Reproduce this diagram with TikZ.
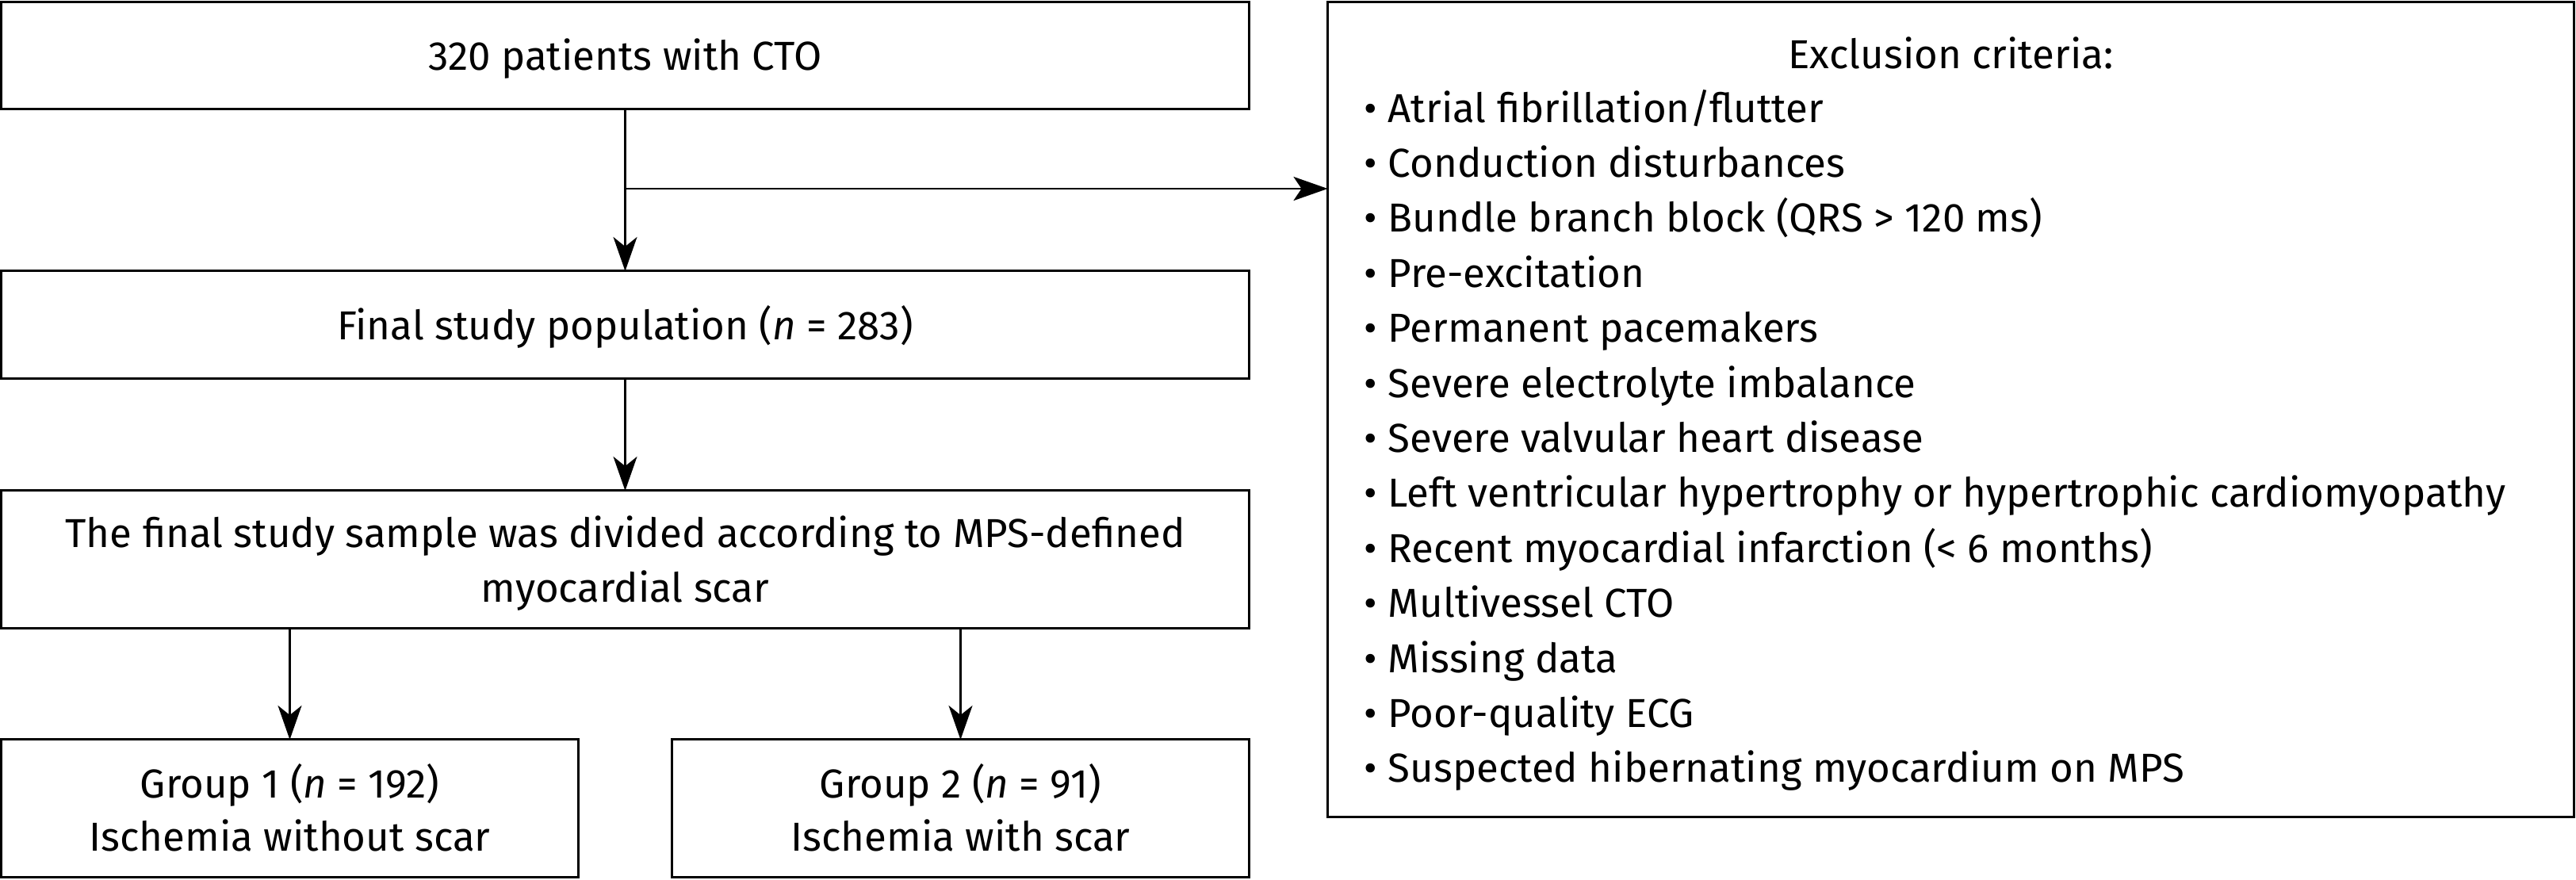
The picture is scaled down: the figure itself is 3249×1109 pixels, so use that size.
\documentclass[tikz,border=0pt]{standalone}
\usepackage{fontspec}
\setmainfont{Fira Sans}
\usetikzlibrary{arrows.meta}
\begin{document}
\begin{tikzpicture}[x=0.01cm,y=-0.01cm,
  font=\fontsize{14.5}{18}\selectfont,
  box/.style={draw, line width=0.85pt, inner sep=0pt, outer sep=0pt},
  txt/.style={inner sep=0pt, anchor=base},
  item/.style={inner sep=0pt, anchor=base west},
  conn/.style={line width=0.6pt, -{Stealth[length=0.43cm, width=0.3cm, inset=0.12cm]}},
  connb/.style={line width=0.85pt, -{Stealth[length=0.43cm, width=0.3cm, inset=0.1cm]}}]
\useasboundingbox (0,0) rectangle (3249,1109);
% boxes
\node[box, minimum width=15.73cm, minimum height=1.34cm] (b1) at (788.5,70) {};
\node[box, minimum width=15.73cm, minimum height=1.35cm] (b2) at (788.5,409.5) {};
\node[box, minimum width=15.73cm, minimum height=1.73cm] (b3) at (788.5,705.5) {};
\node[box, minimum width=7.27cm, minimum height=1.73cm] (b4) at (365.5,1019.5) {};
\node[box, minimum width=7.27cm, minimum height=1.73cm] (b5) at (1211.5,1019.5) {};
\node[box, minimum width=15.71cm, minimum height=10.27cm] (ex) at (2460.5,516.5) {};
% texts
\node[txt] (t1) at (788.5,88) {320 patients with CTO};
\node[txt] (t2) at (788.5,428) {Final study population (\textit{n} = 283)};
\node[txt] (t3a) at (788.5,690) {The final study sample was divided according to MPS-defined};
\node[txt] (t3b) at (788.5,759) {myocardial scar};
\node[txt] (t4a) at (365.5,1006) {Group 1 (\textit{n} = 192)};
\node[txt] (t4b) at (365.5,1073) {Ischemia without scar};
\node[txt] (t5a) at (1211.5,1006) {Group 2 (\textit{n} = 91)};
\node[txt] (t5b) at (1211.5,1073) {Ischemia with scar};
\node[txt] (et) at (2460.5,86) {Exclusion criteria:};
\foreach \t [count=\i from 0] in {{Atrial fibrillation/flutter},{Conduction disturbances},{Bundle branch block (QRS > 120 ms)},{Pre-excitation},{Permanent pacemakers},{Severe electrolyte imbalance},{Severe valvular heart disease},{Left ventricular hypertrophy or hypertrophic cardiomyopathy},{Recent myocardial infarction (< 6 months)},{Multivessel CTO},{Missing data},{Poor-quality ECG},{Suspected hibernating myocardium on MPS}}
  \node[item] (e\i) at (1720,{154+69.4*\i}) {• \t};
% connectors
\coordinate (br) at (788.5,238);
\draw[conn] (b1.south) -- (b2.north);
\draw[connb] (br) -- (br -| ex.west);
\draw[conn] (b2.south) -- (b3.north);
\draw[conn] (b4.north |- b3.south) -- (b4.north);
\draw[conn] (b5.north |- b3.south) -- (b5.north);
\end{tikzpicture}
\end{document}
